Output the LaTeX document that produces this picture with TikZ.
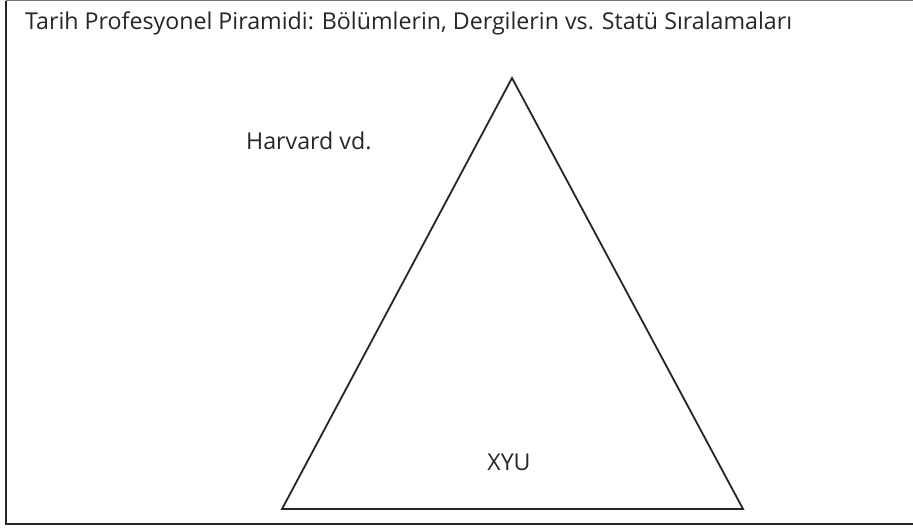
\documentclass[tikz,border=0pt]{standalone}
\usepackage{fontspec}
\setmainfont{Open Sans}
\begin{document}
\begin{tikzpicture}[x=1pt,y=-1pt,
  lbl/.style={font=\fontsize{23.2}{27}\selectfont, text=black!85, inner sep=0pt},
  tri/.style={draw=black!85, line width=1.8pt, line join=miter}]
\useasboundingbox (0,0) rectangle (913,529);
\fill[white] (0,0) rectangle (913,529);
\draw[black!55, line width=1.4pt] (920,0.7) -- (5.5,0.7);
\draw[black!85, line width=2pt] (5.5,0.7) -- (5.5,523.5) -- (920,523.5);
\node[lbl, anchor=west] (title) at (25,23) {Tarih Profesyonel Piramidi: Bölümlerin, Dergilerin vs. Statü Sıralamaları};
\coordinate (apex) at (512,78);
\coordinate (bl) at (282,509);
\coordinate (br) at (743,509);
\draw[tri] (apex) -- (br) -- (bl) -- cycle;
\node[lbl, anchor=west] (harvard) at (246,141) {Harvard vd.};
\node[lbl] (xyu) at (509,462) {XYU};
\end{tikzpicture}
\end{document}
